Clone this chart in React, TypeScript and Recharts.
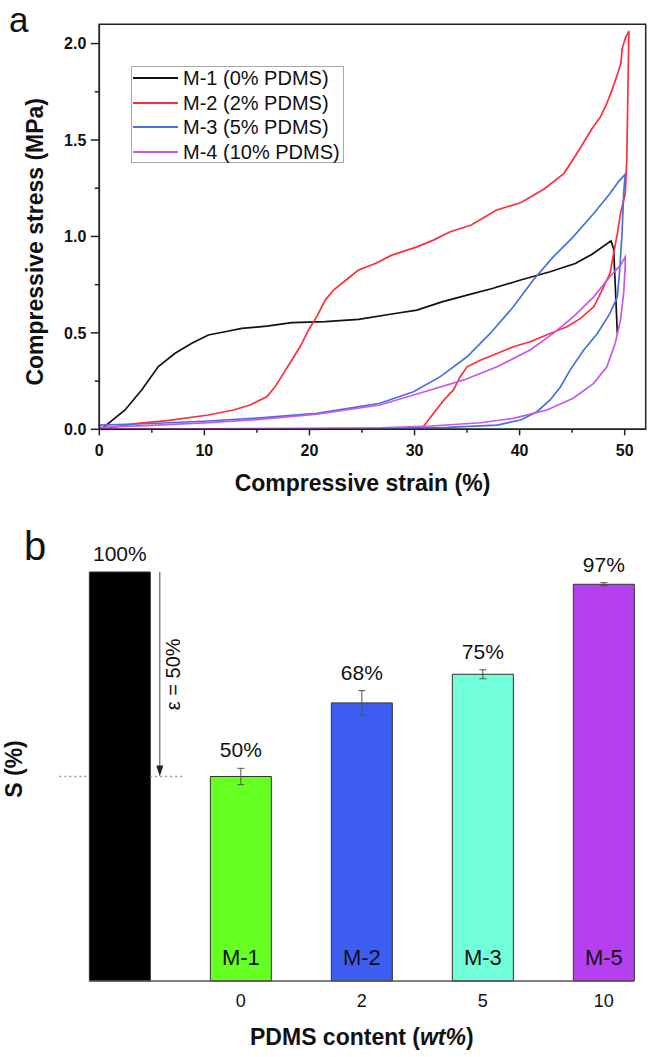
import React from 'react';
import {
  ComposedChart, Line, XAxis, YAxis, Legend, ReferenceArea, Bar, Cell,
  ErrorBar, LabelList, ReferenceLine,
} from 'recharts';

const FONT = '"Liberation Sans", Arial, Helvetica, sans-serif';

// ---------- Panel a: compressive stress-strain loops ----------
const m1Strain = [0.4, 2.45, 4.03, 5.62, 7.21, 8.8, 10.38, 11.97, 13.56, 15.94, 18.32, 21.5, 24.67, 27.84, 30.23, 32.6, 35.0, 37.4, 40.1, 42.9, 45.3, 46.9, 48.7, 48.95, 49.1, 49.3];
const m1Stress = [0.01, 0.1, 0.204, 0.325, 0.394, 0.446, 0.489, 0.506, 0.523, 0.535, 0.553, 0.558, 0.57, 0.598, 0.618, 0.661, 0.696, 0.73, 0.774, 0.817, 0.86, 0.908, 0.977, 0.935, 0.75, 0.497];

const m2Strain = [0, 3.64, 6.42, 10.38, 12.76, 14.35, 15.94, 16.73, 17.53, 18.32, 19.11, 19.91, 20.7, 21.5, 22.29, 23.48, 24.67, 26.26, 27.84, 30.23, 31.8, 33.4, 35.4, 37.76, 40.1, 42.3, 44.2, 45.1, 45.9, 46.9, 47.7, 48.3, 48.8, 49.3, 49.65, 49.75, 50.07, 50.4,
  50.2, 50.05, 49.6, 49.3, 48.95, 48.6, 48.0, 47.05, 45.8, 44.5, 42.9, 41.0, 39.4, 37.5, 36.3, 35.0, 34.35, 33.7, 32.8, 31.8, 31.2, 30.7];
const m2Stress = [0, 0.031, 0.045, 0.074, 0.1, 0.126, 0.169, 0.221, 0.29, 0.359, 0.428, 0.515, 0.584, 0.67, 0.722, 0.774, 0.826, 0.86, 0.903, 0.946, 0.981, 1.024, 1.059, 1.136, 1.175, 1.245, 1.326, 1.4, 1.47, 1.56, 1.62, 1.69, 1.76, 1.84, 1.9, 1.97, 2.03, 2.065,
  1.395, 1.22, 1.12, 1.015, 0.912, 0.808, 0.739, 0.635, 0.575, 0.532, 0.497, 0.454, 0.428, 0.385, 0.359, 0.324, 0.273, 0.204, 0.152, 0.083, 0.039, 0.005];

const m3Strain = [0, 5, 10.38, 15, 20.7, 24.3, 26.7, 29.9, 32.45, 35.0, 37.2, 39.4, 41.3, 43.2, 45.1, 47.05, 48.6, 49.4, 50.05,
  49.9, 49.75, 49.5, 49.3, 48.6, 47.4, 46.1, 44.8, 43.9, 42.9, 41.65, 40.1, 37.85, 33.1, 26.7, 20];
const m3Stress = [0.022, 0.03, 0.043, 0.058, 0.083, 0.114, 0.135, 0.195, 0.273, 0.376, 0.497, 0.635, 0.774, 0.894, 0.998, 1.119, 1.223, 1.283, 1.323,
  1.223, 1.015, 0.808, 0.687, 0.601, 0.497, 0.411, 0.307, 0.221, 0.152, 0.091, 0.048, 0.022, 0.01, 0.005, 0.0];

const m4Strain = [0, 5, 10.38, 15, 20.7, 26.7, 31.5, 34.7, 37.85, 41.0, 43.2, 45.1, 47.05, 48.6, 49.6, 50.05,
  50.05, 49.9, 49.6, 49.1, 48.3, 47.05, 45.1, 42.6, 39.4, 36.3, 31.5, 26.7, 15, 0];
const m4Stress = [0.01, 0.02, 0.035, 0.05, 0.078, 0.126, 0.204, 0.256, 0.324, 0.411, 0.497, 0.583, 0.687, 0.791, 0.851, 0.894,
  0.842, 0.705, 0.566, 0.446, 0.324, 0.238, 0.161, 0.1, 0.057, 0.034, 0.017, 0.008, 0.003, 0.0];

const seriesNames = ['M-1 (0% PDMS)', 'M-2 (2% PDMS)', 'M-3 (5% PDMS)', 'M-4 (10% PDMS)'];
const seriesColors = ['#111111', '#ff2e3a', '#4a6fe0', '#c658ea'];

const xTicksA = [0, 5, 10, 15, 20, 25, 30, 35, 40, 45, 50];
const yTicksA = [0, 0.25, 0.5, 0.75, 1.0, 1.25, 1.5, 1.75, 2.0];

// ---------- Panel b: shape retention ----------
const sampleIndex = [0, 1, 2, 3, 4];
const retention = [100, 50, 68, 75, 97];
const retentionErr = [0, 2, 3, 1.1, 0.4];
const barNames = ['', 'M-1', 'M-2', 'M-3', 'M-5'];
const pdmsLabels = ['', '0', '2', '5', '10'];
const barColors = ['#000000', '#66ff22', '#3d5cf0', '#70ffd8', '#b540f0'];

const toPoints = (xs: number[], ys: number[]) => xs.map((x, i) => ({ x, y: ys[i] }));
const curves = [
  toPoints(m1Strain, m1Stress),
  toPoints(m2Strain, m2Stress),
  toPoints(m3Strain, m3Stress),
  toPoints(m4Strain, m4Stress),
];

const barData = sampleIndex.map((i) => ({ i, s: retention[i], err: retentionErr[i] }));

const AX = '#222';

function XTickA(props: any) {
  const { x, y, payload } = props;
  const major = payload.value % 10 === 0;
  return (
    <g>
      <line x1={x} x2={x} y1={y} y2={y + (major ? 6 : 3.5)} stroke={AX} strokeWidth={1.5} />
      {major && (
        <text x={x} y={y + 27} textAnchor="middle" fontSize={16} fontWeight="bold" fontFamily={FONT} fill="#111">
          {payload.value}
        </text>
      )}
    </g>
  );
}

function YTickA(props: any) {
  const { x, y, payload } = props;
  const major = Math.abs(payload.value * 2 - Math.round(payload.value * 2)) < 1e-6;
  return (
    <g>
      <line x1={x - (major ? 8.5 : 4.5)} x2={x} y1={y} y2={y} stroke={AX} strokeWidth={1.5} />
      {major && (
        <text x={x - 13} y={y + 5.8} textAnchor="end" fontSize={16} fontWeight="bold" fontFamily={FONT} fill="#111">
          {payload.value.toFixed(1)}
        </text>
      )}
    </g>
  );
}

const renderLegendA = () => (
  <div
    style={{
      width: 213, height: 97, boxSizing: 'border-box', border: '1.5px solid #a9a9a9',
      background: '#fff', fontFamily: FONT, fontSize: 20, color: '#111',
    }}
  >
    {seriesNames.map((n, i) => (
      <div key={n} style={{ display: 'flex', alignItems: 'center', height: 24.8, marginTop: i === 0 ? -1.5 : 0 }}>
        <div style={{ width: 45, height: 0, borderTop: `2px solid ${seriesColors[i]}`, marginLeft: 1, marginRight: 5 }} />
        <span style={{ whiteSpace: 'nowrap', lineHeight: '24px' }}>{n}</span>
      </div>
    ))}
  </div>
);

const renderValueLabel = (props: any) => {
  const vb = props.viewBox || props;
  const x = props.x ?? vb.x;
  const y = props.y ?? vb.y;
  const width = props.width ?? vb.width;
  const height = props.height ?? vb.height;
  const idx = props.index;
  const v = retention[idx];
  const e = retentionErr[idx];
  const ppu = height / v;
  const top = y - e * ppu;
  return (
    <text x={x + width / 2} y={top - 11} textAnchor="middle" fontSize={21} fontFamily={FONT} fill="#111">
      {v}%
    </text>
  );
};

const renderNameLabel = (props: any) => {
  const vb = props.viewBox || props;
  const x = props.x ?? vb.x;
  const y = props.y ?? vb.y;
  const width = props.width ?? vb.width;
  const height = props.height ?? vb.height;
  const name = barNames[props.index];
  if (!name) return null;
  return (
    <text x={x + width / 2} y={y + height - 16} textAnchor="middle" fontSize={22} fontFamily={FONT} fill="#111">
      {name}
    </text>
  );
};

const ArrowShape = (p: any) => {
  const { x1, y1, x2, y2 } = p;
  const mid = (y1 + y2) / 2;
  return (
    <g>
      <line x1={x1} y1={y1} x2={x2} y2={y2 - 10} stroke="#666" strokeWidth={1.2} />
      <polygon points={`${x2 - 3.5},${y2 - 11} ${x2 + 3.5},${y2 - 11} ${x2},${y2}`} fill="#222" />
      <text
        x={x1 + 20}
        y={mid}
        transform={`rotate(-90, ${x1 + 20}, ${mid})`}
        textAnchor="middle"
        fontSize={20}
        fontFamily={FONT}
        fill="#111"
      >
        ε = 50%
      </text>
    </g>
  );
};

export default function App() {
  return (
    <div style={{ position: 'absolute', left: 0, top: 0, width: 650, height: 1057, background: '#fff' }}>
      {/* Panel a */}
      <div style={{ position: 'absolute', left: 0, top: 0 }}>
        <ComposedChart width={650} height={520} margin={{ top: 24.3, right: 4.3, bottom: 30.7, left: 29.3 }}>
          <XAxis
            type="number"
            dataKey="x"
            domain={[0, 52]}
            ticks={xTicksA}
            interval={0}
            tick={<XTickA />}
            tickLine={false}
            tickSize={0}
            tickMargin={0}
            height={60}
            axisLine={{ stroke: AX, strokeWidth: 1.5 }}
            label={{
              content: ({ viewBox }: any) => (
                <text
                  x={viewBox.x + viewBox.width / 2 - 10}
                  y={viewBox.y + 62}
                  textAnchor="middle"
                  fontSize={23}
                  fontWeight="bold"
                  fontFamily={FONT}
                  fill="#111"
                >
                  Compressive strain (%)
                </text>
              ),
            }}
          />
          <YAxis
            type="number"
            domain={[0, 2.1]}
            ticks={yTicksA}
            interval={0}
            tick={<YTickA />}
            tickLine={false}
            tickSize={0}
            tickMargin={0}
            width={70}
            axisLine={{ stroke: AX, strokeWidth: 1.5 }}
            label={{
              content: ({ viewBox }: any) => {
                const cx = viewBox.x + 6;
                const cy = viewBox.y + viewBox.height / 2 + 15;
                return (
                  <text
                    x={cx}
                    y={cy}
                    transform={`rotate(-90, ${cx}, ${cy})`}
                    textAnchor="middle"
                    dominantBaseline="central"
                    fontSize={23}
                    fontWeight="bold"
                    fontFamily={FONT}
                    fill="#111"
                  >
                    Compressive stress (MPa)
                  </text>
                );
              },
            }}
          />
          <ReferenceArea x1={0} x2={52} y1={0} y2={2.1} fill="none" stroke={AX} strokeWidth={1.5} />
          {curves.map((d, i) => (
            <Line
              key={seriesNames[i]}
              data={d}
              dataKey="y"
              name={seriesNames[i]}
              type="linear"
              stroke={seriesColors[i]}
              strokeWidth={1.7}
              dot={false}
              activeDot={false}
              isAnimationActive={false}
            />
          ))}
          <Legend
            layout="horizontal"
            verticalAlign="middle"
            align="center"
            content={renderLegendA}
            wrapperStyle={{ left: 131, top: 66, width: 213, height: 97 }}
          />
        </ComposedChart>
      </div>

      {/* Panel b */}
      <div style={{ position: 'absolute', left: 0, top: 520 }}>
        <ComposedChart width={650} height={537} data={barData} margin={{ top: 52, right: 15.9, bottom: 16, left: 9.6 }}>
          <XAxis
            type="number"
            dataKey="i"
            domain={[-0.25, 4.25]}
            ticks={[1, 2, 3, 4]}
            interval={0}
            tickFormatter={(v: number) => pdmsLabels[v]}
            tick={{ fontSize: 18, fill: '#111', fontFamily: FONT }}
            tickLine={false}
            tickSize={0}
            tickMargin={13}
            height={60}
            axisLine={{ stroke: '#555', strokeWidth: 1.3 }}
            label={{
              content: ({ viewBox }: any) => (
                <text
                  x={viewBox.x + viewBox.width / 2}
                  y={viewBox.y + 64}
                  textAnchor="middle"
                  fontSize={23}
                  fontWeight="bold"
                  fontFamily={FONT}
                  fill="#111"
                >
                  PDMS content (<tspan fontStyle="italic">wt%</tspan>)
                </text>
              ),
            }}
          />
          <YAxis
            type="number"
            domain={[0, 100]}
            width={80}
            axisLine={false}
            tickLine={false}
            tick={false}
            label={{
              content: ({ viewBox }: any) => {
                const cx = 14;
                const cy = viewBox.y + viewBox.height / 2 - 7.5;
                return (
                  <text
                    x={cx}
                    y={cy}
                    transform={`rotate(-90, ${cx}, ${cy})`}
                    textAnchor="middle"
                    dominantBaseline="central"
                    fontSize={23}
                    fontWeight="bold"
                    fontFamily={FONT}
                    fill="#111"
                  >
                    S (%)
                  </text>
                );
              },
            }}
          />
          <Bar dataKey="s" barSize={61} stroke="#333" strokeWidth={1} isAnimationActive={false}>
            {barData.map((d) => (
              <Cell key={d.i} fill={barColors[d.i]} />
            ))}
            <ErrorBar dataKey="err" width={3.5} stroke="#555" strokeWidth={1} direction="y" />
            <LabelList dataKey="s" content={renderValueLabel} />
            <LabelList dataKey="s" content={renderNameLabel} />
          </Bar>
          <ReferenceLine
            segment={[{ x: -0.5, y: 50 }, { x: -0.25, y: 50 }]}
            stroke="#8a9bb0"
            strokeWidth={1.3}
            strokeDasharray="2 3"
            ifOverflow="visible"
          />
          <ReferenceLine
            segment={[{ x: 0.25, y: 50 }, { x: 0.54, y: 50 }]}
            stroke="#8a9bb0"
            strokeWidth={1.3}
            strokeDasharray="2 3"
            ifOverflow="visible"
          />
          <ReferenceLine
            segment={[{ x: 0.33, y: 100 }, { x: 0.33, y: 50 }]}
            stroke="#666"
            ifOverflow="visible"
            shape={ArrowShape}
          />
        </ComposedChart>
      </div>

      {/* Panel letters */}
      <svg width={650} height={1057} style={{ position: 'absolute', left: 0, top: 0, pointerEvents: 'none' }}>
        <text x={9} y={32} fontSize={35} fontFamily={FONT} fill="#111">a</text>
        <text x={24} y={560} fontSize={40} fontFamily={FONT} fill="#111">b</text>
      </svg>
    </div>
  );
}
